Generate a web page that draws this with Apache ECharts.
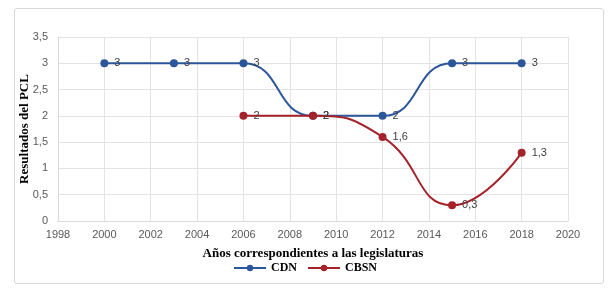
<!DOCTYPE html>
<html>
<head>
<meta charset="utf-8">
<script src="https://cdn.jsdelivr.net/npm/echarts@6/dist/echarts.min.js"></script>
<style>
  html, body { margin: 0; padding: 0; background: #fff; }
  #frame {
    position: absolute; left: 14px; top: 8px; width: 590px; height: 276px;
    border: 1px solid #d9d9d9; border-radius: 3px; box-sizing: border-box;
  }
  #chart { position: absolute; left: 0; top: 0; width: 610px; height: 291px; }
</style>
</head>
<body>
<div id="frame"></div>
<div id="chart"></div>
<script>
// años de las legislaturas
var cdnYears = [2000, 2003, 2006, 2009, 2012, 2015, 2018];
var cdnValues = [3, 3, 3, 2, 2, 3, 3];
var cbsnYears = [2006, 2009, 2012, 2015, 2018];
var cbsnValues = [2, 2, 1.6, 0.3, 1.3];
var seriesNames = ["CDN", "CBSN"];

function comma(v) {
  return String(v).replace(".", ",");
}
function pairs(xs, ys) {
  return xs.map(function (x, i) { return [x, ys[i]]; });
}

var chart = echarts.init(document.getElementById("chart"));
var labelStyle = {
  show: true,
  position: "right",
  distance: 6,
  color: "#404040",
  fontSize: 11,
  fontFamily: "Liberation Sans",
  formatter: function (p) { return comma(p.value[1]); }
};
var option = {
  animation: false,
  grid: { left: 58, right: 42, top: 37, bottom: 70 },
  legend: {
    bottom: 12,
    left: "center",
    itemWidth: 32,
    itemHeight: 8,
    itemGap: 10,
    textStyle: { fontFamily: "Liberation Serif", fontWeight: "bold", fontSize: 12, color: "#000" },
    data: seriesNames
  },
  xAxis: {
    type: "value",
    min: 1998,
    max: 2020,
    interval: 2,
    name: "Años correspondientes a las legislaturas",
    nameLocation: "middle",
    nameGap: 26,
    nameTextStyle: { fontFamily: "Liberation Serif", fontWeight: "bold", fontSize: 13, color: "#000" },
    axisLine: { lineStyle: { color: "#d9d9d9" } },
    axisTick: { show: false },
    axisLabel: {
      color: "#595959", fontSize: 11, fontFamily: "Liberation Sans", margin: 8,
      formatter: function (v) { return String(v); }
    },
    splitLine: { show: true, lineStyle: { color: "#e3e3e3" } }
  },
  yAxis: {
    type: "value",
    min: 0,
    max: 3.5,
    interval: 0.5,
    name: "Resultados del PCL",
    nameLocation: "middle",
    nameGap: 27,
    nameMoveOverlap: false,
    nameTextStyle: { fontFamily: "Liberation Serif", fontWeight: "bold", fontSize: 13, color: "#000" },
    axisLine: { show: true, lineStyle: { color: "#d9d9d9" } },
    axisTick: { show: false },
    axisLabel: { color: "#595959", fontSize: 11, fontFamily: "Liberation Sans", margin: 10, formatter: comma },
    splitLine: { lineStyle: { color: "#e3e3e3" } }
  },
  series: [
    {
      name: seriesNames[0],
      type: "line",
      smooth: 0.5,
      data: pairs(cdnYears, cdnValues),
      symbol: "circle",
      symbolSize: 8,
      itemStyle: { color: "#2B579A" },
      lineStyle: { color: "#2B579A", width: 2 },
      label: labelStyle
    },
    {
      name: seriesNames[1],
      type: "line",
      smooth: 0.5,
      data: pairs(cbsnYears, cbsnValues),
      symbol: "circle",
      symbolSize: 8,
      itemStyle: { color: "#A5222A" },
      lineStyle: { color: "#A5222A", width: 2 },
      label: labelStyle
    }
  ]
};
chart.setOption(option);
</script>
</body>
</html>
